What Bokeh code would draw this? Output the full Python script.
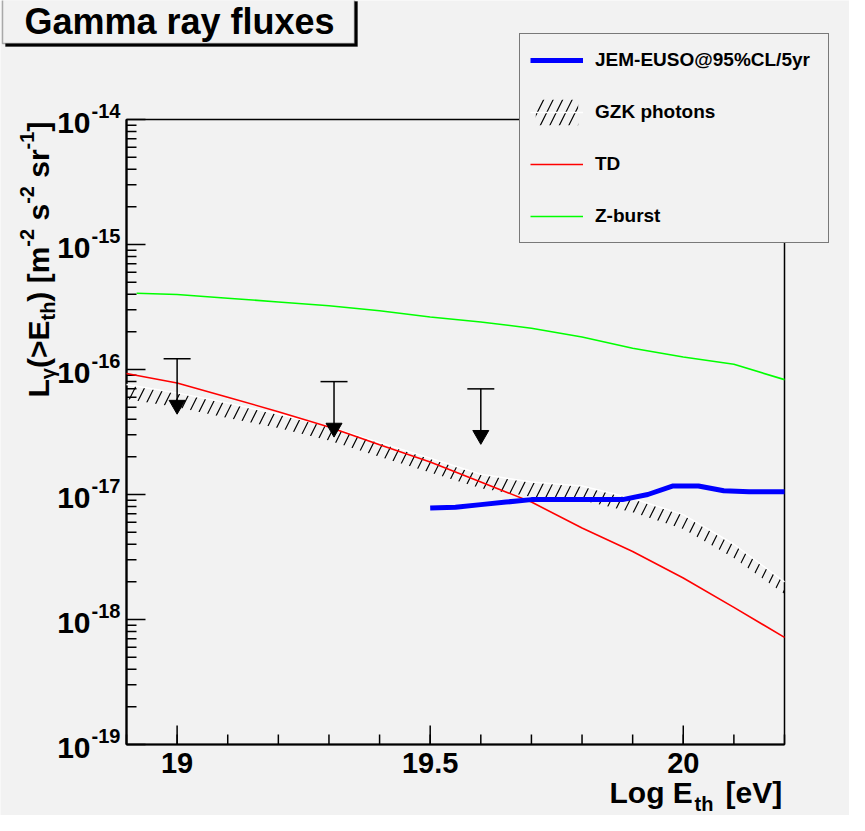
import numpy as np
from bokeh.plotting import figure
from bokeh.models import Range1d, Label, BoxAnnotation, Legend, LegendItem
from bokeh.core.properties import value
from bokeh.embed import file_html
from bokeh.resources import INLINE

# ---------------- data ----------------
# TD model
td_logE = [18.9, 19.0, 19.1, 19.2, 19.3, 19.4, 19.5, 19.6, 19.7, 19.8, 19.9, 20.0, 20.1, 20.2]
td_flux = [9.3e-17, 7.8e-17, 6.0e-17, 4.6e-17, 3.47e-17, 2.5e-17, 1.82e-17, 1.26e-17,
           8.7e-18, 5.4e-18, 3.5e-18, 2.15e-18, 1.25e-18, 7.2e-19]
# Z-burst model
zb_logE = [18.92, 19.0, 19.1, 19.2, 19.3, 19.4, 19.5, 19.6, 19.7, 19.8, 19.9, 20.0, 20.1, 20.2]
zb_flux = [4.07e-16, 3.98e-16, 3.72e-16, 3.47e-16, 3.24e-16, 2.95e-16, 2.63e-16, 2.40e-16,
           2.14e-16, 1.82e-16, 1.48e-16, 1.26e-16, 1.10e-16, 8.3e-17]
# JEM-EUSO sensitivity
jem_logE = [19.5, 19.55, 19.6, 19.65, 19.7, 19.8, 19.88, 19.93, 19.98, 20.03, 20.08, 20.13, 20.2]
jem_flux = [7.8e-18, 7.9e-18, 8.3e-18, 8.7e-18, 9.1e-18, 9.1e-18, 9.1e-18, 1.0e-17,
            1.17e-17, 1.17e-17, 1.07e-17, 1.05e-17, 1.05e-17]
# GZK photons band
gzk_logE = [18.9, 19.0, 19.1, 19.2, 19.3, 19.4, 19.5, 19.6, 19.7, 19.8, 19.9, 20.0, 20.1, 20.2]
gzk_upper = [7.6e-17, 6.5e-17, 5.4e-17, 4.4e-17, 3.5e-17, 2.6e-17, 1.95e-17, 1.45e-17,
             1.26e-17, 1.17e-17, 9.3e-18, 6.9e-18, 4.0e-18, 2.0e-18]
gzk_lower = [5.8e-17, 5.0e-17, 4.1e-17, 3.4e-17, 2.7e-17, 2.0e-17, 1.5e-17, 1.12e-17,
             9.6e-18, 9.0e-18, 7.2e-18, 5.3e-18, 3.1e-18, 1.6e-18]
# upper limits
ul_logE = [19.0, 19.31, 19.6]
ul_flux = [1.22e-16, 8.0e-17, 7.0e-17]

x_major = [19.0, 19.5, 20.0]
x_major_labels = ["19", "19.5", "20"]
x_minor = [18.9, 19.0, 19.1, 19.2, 19.3, 19.4, 19.5, 19.6, 19.7, 19.8, 19.9, 20.0, 20.1, 20.2]
y_major = [1e-19, 1e-18, 1e-17, 1e-16, 1e-15, 1e-14]
labels = ["JEM-EUSO@95%CL/5yr", "GZK photons", "TD", "Z-burst"]

XMIN, XMAX = 18.9, 20.2
YMIN, YMAX = 1e-19, 1e-14

# ---------------- layout (page pixels) ----------------
W, H = 849, 815                      # canvas, placed at page offset (8, 8)
FL, FT, FR, FB = 134, 127, 792, 752   # axis box edges in page pixels
ppx = (FR - FL) / (XMAX - XMIN)
ppd = (FB - FT) / (np.log10(YMAX) - np.log10(YMIN))
x_lo = XMIN - (FL - 8) / ppx
x_hi = XMAX + (8 + W - FR) / ppx
y_lo = 10 ** (np.log10(YMIN) - (8 + H - FB) / ppd)
y_hi = 10 ** (np.log10(YMAX) + (FT - 8) / ppd)

def rx(ax):
    return ax - 8
def ry(ay):
    return 8 + H - ay

BG = "#f2f2f2"
FONT = "Liberation Sans"

p = figure(width=W, height=H, frame_width=W, frame_height=H, min_border=0,
           x_range=Range1d(x_lo, x_hi), y_range=Range1d(y_lo, y_hi),
           y_axis_type="log", x_axis_location=None, y_axis_location=None,
           output_backend="svg", toolbar_location=None, title=None,
           background_fill_color=BG, border_fill_color=BG)
p.grid.visible = False
p.outline_line_color = None

# ---------------- axes box, ticks, tick labels ----------------
p.quad(left=[XMIN], right=[XMAX], bottom=[YMIN], top=[YMAX], fill_alpha=0,
       line_color="black", line_width=1.5)
p.segment(x0=[XMIN, XMIN], y0=[YMIN, YMIN], x1=[XMIN, XMAX], y1=[YMAX, YMIN],
          line_color="black", line_width=2.2)
y_minor = [k * d for d in y_major[:-1] for k in range(2, 10)]
p.ray(x=x_minor, y=[YMIN] * len(x_minor), length=10, length_units="screen",
      angle=90, angle_units="deg", line_color="black", line_width=1.5)
p.ray(x=x_major, y=[YMIN] * len(x_major), length=19, length_units="screen",
      angle=90, angle_units="deg", line_color="black", line_width=1.5)
p.ray(x=[XMIN] * len(y_minor), y=y_minor, length=10, length_units="screen",
      angle=0, line_color="black", line_width=1.5)
p.ray(x=[XMIN] * len(y_major), y=y_major, length=19, length_units="screen",
      angle=0, line_color="black", line_width=1.5)

p.text(x=x_major, y=[YMIN] * len(x_major), text=x_major_labels, y_offset=8,
       text_align="center", text_baseline="top", text_font=value(FONT),
       text_font_style="bold", text_font_size="29px", text_color="black")
exps = [str(int(round(np.log10(t)))) for t in y_major]
p.text(x=[XMIN] * len(y_major), y=y_major, text=["10"] * len(y_major), x_offset=-36,
       y_offset=3, text_align="right", text_baseline="middle", text_font=value(FONT),
       text_font_style="bold", text_font_size="30px", text_color="black")
p.text(x=[XMIN] * len(y_major), y=y_major, text=exps, x_offset=-35, y_offset=-9,
       text_align="left", text_baseline="middle", text_font=value(FONT),
       text_font_style="bold", text_font_size="20px", text_color="black")

# ---------------- data glyphs ----------------
band = p.varea(x=gzk_logE, y1=gzk_lower, y2=gzk_upper, fill_alpha=0,
               hatch_pattern="/", hatch_color="black", hatch_weight=1.2, hatch_scale=19)
gzk_line = p.line(gzk_logE, gzk_upper, line_color="white", line_width=1.5)
td = p.line(td_logE, td_flux, line_color="#ff0000", line_width=1.6)
zb = p.line(zb_logE, zb_flux, line_color="#00ff00", line_width=1.6)
jem = p.line(jem_logE, jem_flux, line_color="#0000ff", line_width=5)

# upper limit arrows
tip = [f * 10 ** -0.37 for f in ul_flux]
p.segment(x0=ul_logE, y0=ul_flux, x1=ul_logE, y1=tip, line_color="black", line_width=1.5)
p.scatter(ul_logE, ul_flux, marker="dash", size=27, line_color="black", line_width=1.5)
p.scatter(ul_logE, tip, marker="inverted_triangle", size=16, line_color="black",
          fill_color="black")

# ---------------- legend ----------------
legend = Legend(items=[LegendItem(label=labels[0], renderers=[jem]),
                       LegendItem(label=labels[1], renderers=[band, gzk_line]),
                       LegendItem(label=labels[2], renderers=[td]),
                       LegendItem(label=labels[3], renderers=[zb])],
                location=(rx(527), ry(251)), margin=0, padding=10, spacing=20,
                glyph_width=53, glyph_height=32, label_width=223, label_height=32,
                label_standoff=12, label_text_font=FONT, label_text_font_style="bold",
                label_text_font_size="19px", label_text_color="black",
                background_fill_color=BG, background_fill_alpha=1,
                border_line_color="black", border_line_width=1.5)
p.add_layout(legend)

# ---------------- title box ----------------
def box(l, r, t, b, **kw):
    p.add_layout(BoxAnnotation(left=rx(l), right=rx(r), top=ry(t), bottom=ry(b),
                               left_units="screen", right_units="screen",
                               top_units="screen", bottom_units="screen", **kw))

box(13, 365, 9, 54, fill_color="black", fill_alpha=1, line_color="black")
box(10, 362, 6, 51, fill_color=BG, fill_alpha=1, line_color="black", line_width=1.5)
p.add_layout(Label(x=rx(187), y=ry(29), x_units="screen", y_units="screen",
                   text="Gamma ray fluxes", text_align="center", text_baseline="middle",
                   text_font=FONT, text_font_style="bold", text_font_size="36px",
                   text_color="black"))

# ---------------- axis titles ----------------
def add_text(ax, ay, txt, size, align="left", angle=0.0):
    p.add_layout(Label(x=rx(ax), y=ry(ay), x_units="screen", y_units="screen",
                       text=txt, text_align=align, text_baseline="alphabetic",
                       angle=angle, text_font=FONT, text_font_style="bold",
                       text_font_size=size, text_color="black"))

add_text(617, 800, "Log E", "30px")
add_text(702, 811, "th", "20px")
add_text(733, 800, "[eV]", "30px")

# rotated y title: pieces laid out one after another (bottom to top)
A = np.pi / 2
F, f = 30, 20
MAIN, SUB, SUP = 46, 55, 34
SP = 0.278 * F   # width of a space in the main font
pieces = [("L", F, MAIN, 0.611, 0), ("γ", f, SUB, 0.556, 0), ("(>E", F, MAIN, 1.584, 0),
          ("th", f, SUB, 0.944, 0), (") [m", F, MAIN, 1.833, 0), ("-2", f, SUP, 0.889, 0),
          ("s", F, MAIN, 0.556, SP), ("-2", f, SUP, 0.889, 0), ("sr", F, MAIN, 0.945, SP),
          ("-1", f, SUP, 0.889, 0), ("]", F, MAIN, 0.333, 0)]
ypos = 405.0
for txt, size, xb, em, gap in pieces:
    ypos -= gap
    add_text(xb, ypos, txt, "%dpx" % size, angle=A)
    ypos -= em * size

open("out.html", "w").write(file_html(p, INLINE))
